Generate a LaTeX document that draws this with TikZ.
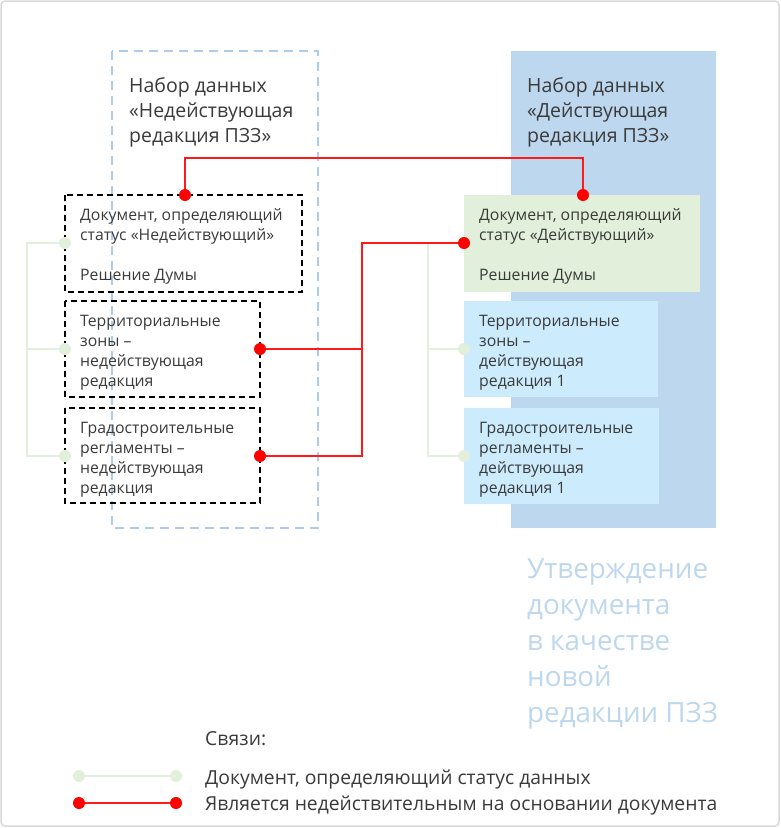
\documentclass[tikz,border=0pt]{standalone}
\usepackage{fontspec}
\setmainfont{Open Sans}
\definecolor{setblue}{HTML}{BDD7EE}
\definecolor{setdash}{HTML}{A9CDEB}
\definecolor{docgreen}{HTML}{E2EFDA}
\definecolor{lightblue}{HTML}{CCEBFD}
\definecolor{txt}{HTML}{3A3A3A}
\definecolor{framegray}{HTML}{D9D9D9}
\definecolor{linkred}{HTML}{FF1A1A}
\tikzset{
  boxtext/.style={anchor=base west, inner sep=0pt, align=left, text=txt, font=\fontsize{15.8}{20}\selectfont},
  titletext/.style={anchor=base west, inner sep=0pt, align=left, text=txt, font=\fontsize{19.5}{25}\selectfont},
  bigtext/.style={anchor=base west, inner sep=0pt, align=left, text=setblue, font=\fontsize{27.8}{36}\selectfont},
  legtext/.style={anchor=base west, inner sep=0pt, align=left, text=txt, font=\fontsize{19.3}{20}\selectfont},
  oldbox/.style={draw=black, line width=1.8pt, dash pattern=on 6pt off 4pt},
  greenlink/.style={draw=docgreen, line width=2pt},
  redlink/.style={draw=linkred, line width=1.3pt},
  gdot/.style={circle, fill=docgreen, inner sep=0pt, minimum size=12pt},
  rdot/.style={circle, fill=red, inner sep=0pt, minimum size=12pt},
}
\begin{document}
\begin{tikzpicture}[x=1pt,y=-1pt]
\useasboundingbox (0,0) rectangle (781,828);
\draw[framegray, line width=1.5pt, rounded corners=4pt] (1,1) rectangle (779,826);

% data sets
\draw[setdash, line width=1.5pt, dash pattern=on 9pt off 6pt] (112,51) rectangle (318,528);
\fill[setblue] (511,51) rectangle (716,528);
\node[titletext] (tl) at (129,142) {Набор данных\\«Недействующая\\редакция ПЗЗ»};
\node[titletext] (tr) at (527,142) {Набор данных\\«Действующая\\редакция ПЗЗ»};

% left boxes
\path[oldbox] (65,195) rectangle (302,292);
\path[oldbox] (65,301) rectangle (260,397);
\path[oldbox] (65,408) rectangle (260,503);
\node[boxtext] (l1) at (80,280) {Документ, определяющий\\статус «Недействующий»\\[20pt]Решение Думы};
\node[boxtext] (l2) at (80,386) {Территориальные\\зоны –\\недействующая\\редакция};
\node[boxtext] (l3) at (80,493) {Градостроительные\\регламенты –\\недействующая\\редакция};

% right boxes
\fill[docgreen] (464,195) rectangle (700,292);
\fill[lightblue] (464,301) rectangle (658,397);
\fill[lightblue] (464,408) rectangle (659,504);
\node[boxtext] (r1) at (479,280) {Документ, определяющий\\статус «Действующий»\\[20pt]Решение Думы};
\node[boxtext] (r2) at (479,386) {Территориальные\\зоны –\\действующая\\редакция 1};
\node[boxtext] (r3) at (479,493) {Градостроительные\\регламенты –\\действующая\\редакция 1};

% anchor points
\coordinate (gl1) at (65,243);
\coordinate (gl2) at (65,349);
\coordinate (gl3) at (65,456);
\coordinate (gr1) at (464,243);
\coordinate (gr2) at (464,349);
\coordinate (gr3) at (464,456);
\coordinate (rl2) at (260,349);
\coordinate (rl3) at (260,456);
\coordinate (rt1) at (185,195);
\coordinate (rt2) at (583,195);

% green links
\draw[greenlink] (gl1) -- (27,243) -- (27,456) -- (gl3);
\draw[greenlink] (27,349) -- (gl2);
\draw[greenlink] (gr3) -- (428,456) -- (428,243) -- (gr1);
\draw[greenlink] (428,349) -- (gr2);
\node[gdot] (dgl1) at (gl1) {};
\node[gdot] (dgl2) at (gl2) {};
\node[gdot] (dgl3) at (gl3) {};
\node[gdot] (dgr2) at (gr2) {};
\node[gdot] (dgr3) at (gr3) {};

% red links
\draw[redlink] (rt1) -- (185,158) -- (583,158) -- (rt2);
\draw[redlink] (rl2) -- (362,349);
\draw[redlink] (rl3) -- (362,456) -- (362,243) -- (gr1);
\node[rdot] (drt1) at (rt1) {};
\node[rdot] (drt2) at (rt2) {};
\node[rdot] (drl2) at (rl2) {};
\node[rdot] (drl3) at (rl3) {};
\node[rdot] (drr1) at (gr1) {};

% big caption
\node[bigtext] (big) at (527,722) {Утверждение\\документа\\в качестве\\новой\\редакции ПЗЗ};

% legend
\node[legtext] (leg) at (205,745) {Связи:};
\coordinate (lg1) at (79,776);
\coordinate (lg2) at (176,776);
\coordinate (lr1) at (79,803);
\coordinate (lr2) at (176,803);
\draw[greenlink] (lg1) -- (lg2);
\draw[redlink] (lr1) -- (lr2);
\node[gdot] (dlg1) at (lg1) {};
\node[gdot] (dlg2) at (lg2) {};
\node[rdot] (dlr1) at (lr1) {};
\node[rdot] (dlr2) at (lr2) {};
\node[legtext] (legg) at (205,784) {Документ, определяющий статус данных};
\node[legtext] (legr) at (205,810) {Является недействительным на основании документа};
\end{tikzpicture}
\end{document}
